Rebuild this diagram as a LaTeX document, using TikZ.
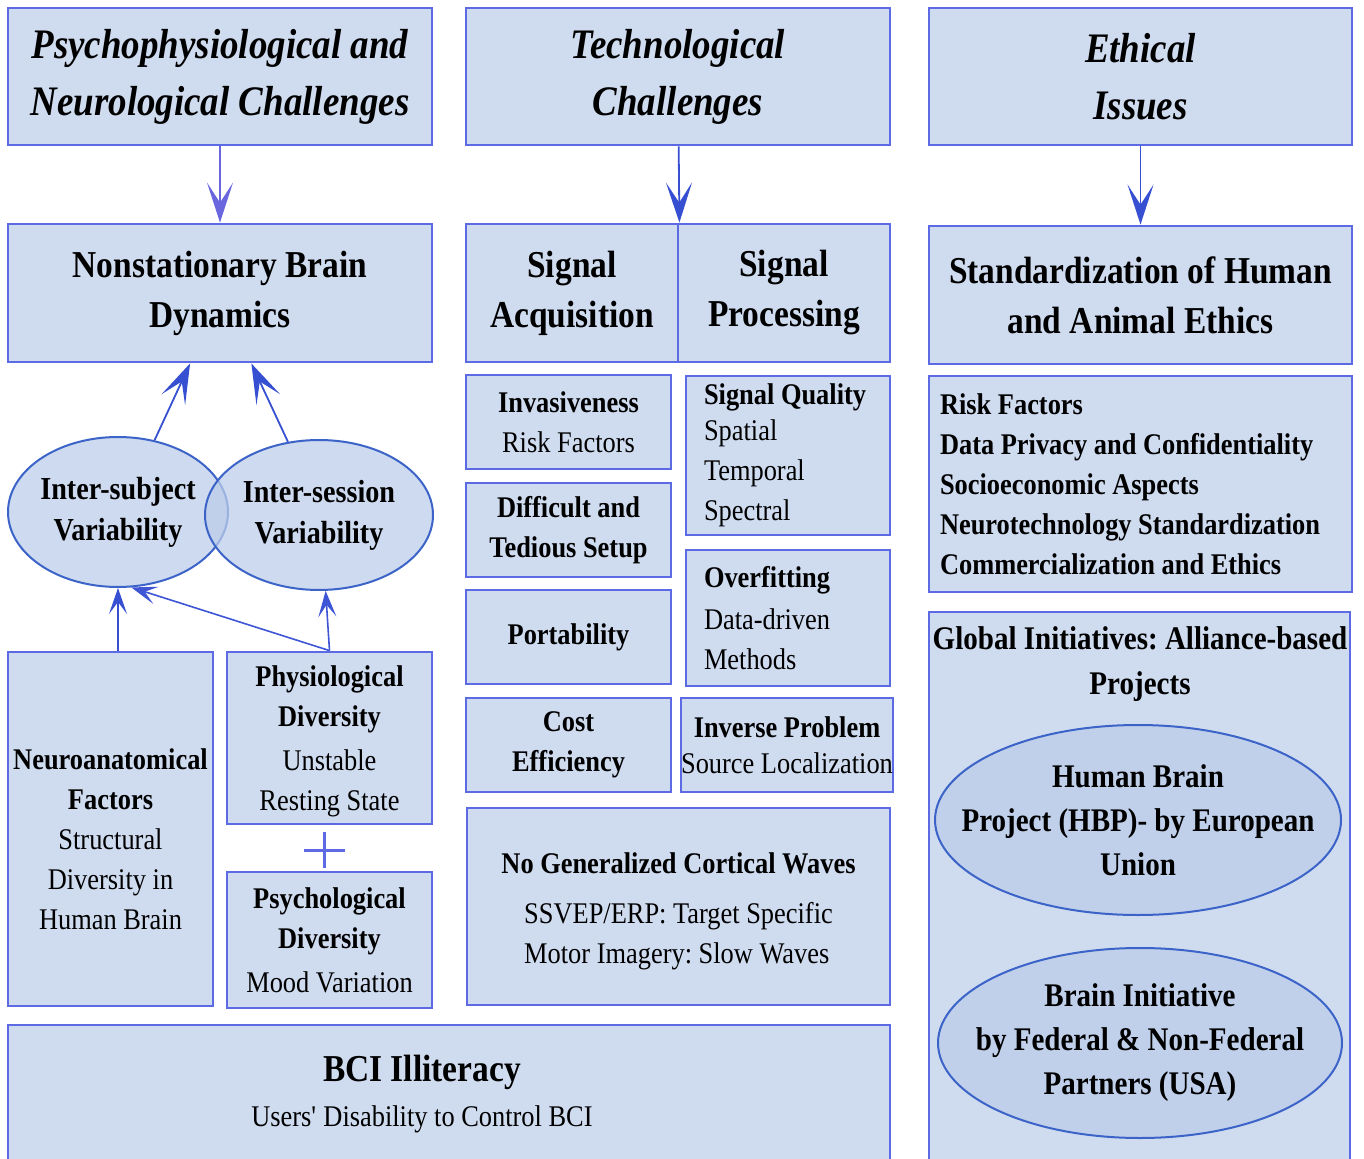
\documentclass[tikz,border=0pt]{standalone}
\usepackage{fontspec}
\setmainfont{Liberation Serif}[FakeStretch=0.88]
\usetikzlibrary{arrows.meta,shapes.geometric}
\definecolor{boxfill}{RGB}{207,219,239}
\definecolor{boxline}{RGB}{92,106,228}
\definecolor{ovalline}{RGB}{60,100,200}
\definecolor{ovalfill}{RGB}{188,205,234}
\definecolor{arrowA}{RGB}{106,102,221}
\definecolor{arrowB}{RGB}{55,80,210}
\newcommand{\fontTitle}{\fontsize{21}{28.5}\selectfont\bfseries\itshape}
\newcommand{\fontHead}{\fontsize{19}{25}\selectfont\bfseries}
\newcommand{\fontOval}{\fontsize{16}{20.5}\selectfont\bfseries}
\newcommand{\fontBody}{\fontsize{15}{20}\selectfont}
\frenchspacing
\begin{document}
\begin{tikzpicture}[x=0.5pt,y=-0.5pt]
	\useasboundingbox (0,0) rectangle (1364,1159);
	\clip (0,0) rectangle (1364,1159);
	\tikzset{
		link/.style={line width=0.9pt,-{Stealth[length=20pt,width=13pt,inset=10pt]}},
		smalllink/.style={line width=0.8pt,-{Stealth[length=13pt,width=9pt,inset=6pt]}},
		oval/.style={ellipse,draw=ovalline,fill=ovalfill,fill opacity=0.75,text opacity=1,line width=1pt,align=center,inner sep=0pt}
	}
	\begin{scope}\tikzset{every node/.style={rectangle,draw=boxline,fill=boxfill,line width=1.4pt,align=center,inner sep=2pt}}
	% top row
	\node[font=\fontTitle,minimum width=212pt,minimum height=68.5pt] (psy) at (220,76.5) {Psychophysiological and\\Neurological Challenges};
	\node[font=\fontTitle,minimum width=212pt,minimum height=68.5pt] (tech) at (678,76.5) {Technological\\Challenges};
	\node[font=\fontTitle,minimum width=211.5pt,minimum height=68.5pt] (eth) at (1140.5,76.5) {Ethical\\Issues};
	% second row
	\node[font=\fontHead,minimum width=212pt,minimum height=69pt] (ns) at (220,293) {Nonstationary Brain\\Dynamics};
	\node[font=\fontHead,minimum width=106pt,minimum height=69pt] (sa) at (572,293) {Signal\\Acquisition};
	\node[font=\fontHead,minimum width=106pt,minimum height=69pt] (sp) at (784,293) {Signal\\Processing};
	\node[font=\fontHead,minimum width=211.5pt,minimum height=69pt] (std) at (1140.5,295) {Standardization of Human\\and Animal Ethics};
	% left column
	\node[font=\fontBody,minimum width=102.5pt,minimum height=177pt] (neuro) at (110.5,829) {\rule{0pt}{21pt}\textbf{Neuroanatomical}\\\textbf{Factors}\\Structural\\Diversity in\\Human Brain};
	\node[font=\fontBody,minimum width=102.5pt,minimum height=86pt] (phys) at (329.5,738) {\rule{0pt}{14pt}\textbf{Physiological}\\\textbf{Diversity}\\[2pt]Unstable\\Resting State};
	\node[font=\fontBody,minimum width=102.5pt,minimum height=68pt] (psych) at (329.5,940) {\textbf{Psychological}\\\textbf{Diversity}\\[2pt]Mood Variation};
	% middle column
	\node[font=\fontBody,minimum width=102.5pt,minimum height=47pt] (inv) at (568.5,422) {\textbf{Invasiveness}\\Risk Factors};
	\node[font=\fontBody\bfseries,minimum width=102.5pt,minimum height=47pt] (diff) at (568.5,530) {Difficult and\\Tedious Setup};
	\node[font=\fontBody\bfseries,minimum width=102.5pt,minimum height=47pt] (port) at (568.5,637) {Portability};
	\node[font=\fontBody\bfseries,minimum width=102.5pt,minimum height=47pt] (cost) at (568.5,745) {Cost\\Efficiency};
	\node[font=\fontBody,align=flush left,inner xsep=9pt,inner ysep=0pt,text width=84pt,minimum height=79.5pt] (sq) at (788,455.5) {\textbf{Signal Quality}\\[-2pt]Spatial\\Temporal\\Spectral};
	\node[font=\fontBody,align=flush left,inner xsep=9pt,inner ysep=0pt,text width=84pt,minimum height=68pt] (over) at (788,618) {\textbf{Overfitting}\\[1pt]Data-driven\\Methods};
	\node[font=\fontBody,minimum width=103pt,minimum height=47pt,inner sep=0pt] (inverse) at (787,745) {\textbf{Inverse Problem}\\[-2pt]Source Localization};
	\node[font=\fontBody,minimum width=211.5pt,minimum height=98.5pt] (nogen) at (678.5,906.5) {\rule{0pt}{18pt}\textbf{No Generalized Cortical Waves}\\[5pt]\begin{tabular}[t]{@{}l@{}}SSVEP/ERP: Target Specific\\Motor Imagery: Slow Waves\end{tabular}};
	% bottom
	\node[minimum width=441pt,minimum height=75pt] (bci) at (449,1100) {};
	% right column
	\node[font=\fontBody\bfseries,align=flush left,inner xsep=5.5pt,inner ysep=2pt,text width=200.5pt,minimum height=108pt] (risk) at (1140.5,484) {Risk Factors\\Data Privacy and Confidentiality\\Socioeconomic Aspects\\Neurotechnology Standardization\\Commercialization and Ethics};
	\node[minimum width=210.5pt,minimum height=281.5pt] (glob) at (1139.5,893.5) {};
	\end{scope}
	\begin{scope}
	\node[align=center] (bcitext) at (422,1094) {{\fontsize{19}{25}\selectfont\bfseries BCI Illiteracy}\\[7pt]{\fontBody Users\textquotesingle\ Disability to Control BCI}};
	\node[align=center,font=\fontsize{16.5}{22.5}\selectfont\bfseries,inner sep=0pt] (globtitle) at (1140,664) {Global Initiatives: Alliance-based\\Projects};
	\node[oval,minimum width=110pt,minimum height=75pt,inner xsep=-3pt,font=\fontOval] (isub) at (118,512) {Inter-subject\\Variability};
	\node[oval,minimum width=114pt,minimum height=75pt,inner xsep=-3pt,font=\fontOval] (isess) at (319,515) {Inter-session\\Variability};
	\node[oval,minimum width=203pt,minimum height=95pt,inner xsep=-18pt,font=\fontsize{16.5}{22}\selectfont\bfseries] (hbp) at (1138,820) {Human Brain\\Project (HBP)- by European\\Union};
	\node[oval,minimum width=202pt,minimum height=95pt,inner xsep=-18pt,font=\fontsize{16.5}{22}\selectfont\bfseries] (bi) at (1140,1043) {Brain Initiative\\by Federal \& Non-Federal\\Partners (USA)};
	\end{scope}
	\begin{scope}
		\path [link,arrowA] (psy) edge (ns);
		\path [link,arrowB] (tech) edge (sa.north east);
		\path [link,arrowB] (eth) edge (std);
		\path [link,arrowB] (isub.63) edge (ns.-113.5);
		\path [link,arrowB] (isess.113.7) edge (ns.-66.5);
		\path [smalllink,arrowB] (isub.south |- neuro.north) edge (isub.south);
		\path [smalllink,arrowB!80!boxline] (phys.north) edge (isub.-80);
		\path [smalllink,arrowB!80!boxline] (phys.north) edge (isess.-85);
		% plus between the two diversity boxes
		\draw [boxline,line width=1.5pt] (304,850) -- (345,850) (324,832) -- (324,868);
	\end{scope}
\end{tikzpicture}
\end{document}
